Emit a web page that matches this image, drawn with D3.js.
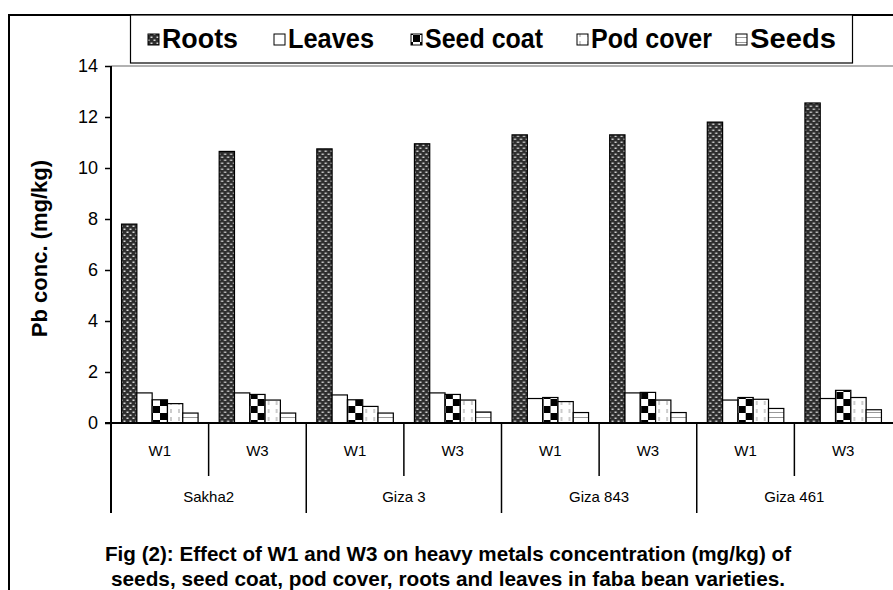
<!DOCTYPE html>
<html>
<head>
<meta charset="utf-8">
<script src="https://cdn.jsdelivr.net/npm/d3@7/dist/d3.min.js"></script>
<style>
  body { margin: 0; background: #fff; }
  svg { display: block; }
</style>
</head>
<body>
<div id="chart"></div>
<script>
// data
const varieties = ['Sakha2', 'Giza 3', 'Giza 843', 'Giza 461'];
const treatments = ['W1', 'W3'];
const seriesNames = ['Roots', 'Leaves', 'Seed coat', 'Pod cover', 'Seeds'];
const roots = [7.8, 10.65, 10.75, 10.95, 11.3, 11.3, 11.8, 12.55];
const leaves = [1.18, 1.18, 1.1, 1.18, 0.96, 1.18, 0.9, 0.96];
const seedCoat = [0.91, 1.12, 0.91, 1.12, 1.0, 1.2, 1.0, 1.28];
const podCover = [0.76, 0.9, 0.65, 0.9, 0.84, 0.9, 0.93, 1.0];
const seeds = [0.39, 0.39, 0.39, 0.43, 0.41, 0.41, 0.57, 0.52];
const yTicks = [0, 2, 4, 6, 8, 10, 12, 14];
const captionLines = [
  'Fig (2): Effect of W1 and W3 on heavy metals concentration (mg/kg) of',
  'seeds, seed coat, pod cover, roots and leaves in faba bean varieties.'
];

const seriesValues = [roots, leaves, seedCoat, podCover, seeds];
const categories = [];
varieties.forEach(v => treatments.forEach(t => categories.push({ variety: v, treatment: t, key: v + '|' + t })));

const width = 893, height = 590;
const margin = { top: 66, right: 1, bottom: 167, left: 111 };
const font = 'Liberation Sans, Arial, sans-serif';

const svg = d3.select('#chart').append('svg')
  .attr('width', width)
  .attr('height', height);

// fill patterns
const defs = svg.append('defs');

const pRoots = defs.append('pattern').attr('id', 'p0')
  .attr('patternUnits', 'userSpaceOnUse').attr('width', 6).attr('height', 6);
pRoots.append('rect').attr('width', 6).attr('height', 6).attr('fill', '#2e2e2e');
pRoots.append('rect').attr('x', 0.5).attr('y', 0.5).attr('width', 2).attr('height', 1.5).attr('fill', '#d8d8d8');
pRoots.append('rect').attr('x', 3.5).attr('y', 3.5).attr('width', 2).attr('height', 1.5).attr('fill', '#d8d8d8');

const pLeaves = defs.append('pattern').attr('id', 'p1')
  .attr('patternUnits', 'userSpaceOnUse').attr('width', 4).attr('height', 4);
pLeaves.append('rect').attr('width', 4).attr('height', 4).attr('fill', '#fff');

const pCoat = defs.append('pattern').attr('id', 'p2')
  .attr('patternUnits', 'userSpaceOnUse').attr('width', 14).attr('height', 14);
pCoat.append('rect').attr('width', 14).attr('height', 14).attr('fill', '#fff');
pCoat.append('rect').attr('width', 7).attr('height', 7).attr('fill', '#000');
pCoat.append('rect').attr('x', 7).attr('y', 7).attr('width', 7).attr('height', 7).attr('fill', '#000');

const pPod = defs.append('pattern').attr('id', 'p3')
  .attr('patternUnits', 'userSpaceOnUse').attr('width', 8).attr('height', 8);
pPod.append('rect').attr('width', 8).attr('height', 8).attr('fill', '#fff');
pPod.append('line').attr('x1', 4).attr('x2', 4).attr('y1', 1).attr('y2', 5)
  .attr('stroke', '#999').attr('stroke-width', 1);

const pSeeds = defs.append('pattern').attr('id', 'p4')
  .attr('patternUnits', 'userSpaceOnUse').attr('width', 4).attr('height', 5);
pSeeds.append('rect').attr('width', 4).attr('height', 5).attr('fill', '#fff');
pSeeds.append('line').attr('x1', 0).attr('x2', 4).attr('y1', 2.5).attr('y2', 2.5)
  .attr('stroke', '#999').attr('stroke-width', 1);

// outer frame (left and top edges only, the rest is cropped)
svg.append('path')
  .attr('d', 'M9,591 V15 H894')
  .attr('fill', 'none').attr('stroke', '#000').attr('stroke-width', 2);

// scales
const x0 = d3.scaleBand()
  .domain(categories.map(d => d.key))
  .range([margin.left, width - margin.right])
  .padding(0);

const x1 = d3.scaleBand()
  .domain(seriesNames)
  .range([0, x0.bandwidth()])
  .paddingInner(0)
  .paddingOuter(0.69);

const y = d3.scaleLinear()
  .domain([0, 14])
  .range([height - margin.bottom, margin.top]);

// plot top edge
svg.append('line')
  .attr('x1', margin.left).attr('x2', width)
  .attr('y1', y(14)).attr('y2', y(14))
  .attr('stroke', '#999').attr('stroke-width', 1.5);

// bars
const groups = svg.append('g').selectAll('g')
  .data(categories)
  .join('g')
  .attr('transform', d => `translate(${x0(d.key)},0)`);

groups.selectAll('rect')
  .data((d, i) => seriesNames.map((s, j) => ({ series: s, idx: j, value: seriesValues[j][i] })))
  .join('rect')
  .attr('x', d => x1(d.series))
  .attr('y', d => y(d.value))
  .attr('width', x1.bandwidth())
  .attr('height', d => y(0) - y(d.value))
  .attr('fill', d => `url(#p${d.idx})`)
  .attr('stroke', '#000')
  .attr('stroke-width', 1.2);

// y axis
const yAxis = svg.append('g')
  .attr('transform', `translate(${margin.left},0)`)
  .call(d3.axisLeft(y).tickValues(yTicks).tickSize(6).tickSizeOuter(0).tickPadding(7));
yAxis.select('.domain').attr('stroke', '#000').attr('stroke-width', 2)
  .attr('d', `M0,${y(14)}V${y(0) + 90}`);
yAxis.selectAll('.tick line').attr('stroke', '#000').attr('stroke-width', 1.5);
yAxis.selectAll('.tick text')
  .attr('font-family', font)
  .attr('font-size', 18)
  .attr('fill', '#000');

// x axis line
svg.append('line')
  .attr('x1', margin.left - 6).attr('x2', width)
  .attr('y1', y(0)).attr('y2', y(0))
  .attr('stroke', '#000').attr('stroke-width', 2);

// two-level category axis
const sep = svg.append('g');
categories.forEach((d, i) => {
  if (i === 0) return;
  const xPos = x0(d.key);
  const long = d.treatment === treatments[0];
  sep.append('line')
    .attr('x1', xPos).attr('x2', xPos)
    .attr('y1', y(0)).attr('y2', long ? y(0) + 90 : y(0) + 53)
    .attr('stroke', '#000').attr('stroke-width', 1.5);
});

svg.append('g').selectAll('text')
  .data(categories)
  .join('text')
  .attr('x', d => x0(d.key) + x0.bandwidth() / 2)
  .attr('y', y(0) + 33)
  .attr('text-anchor', 'middle')
  .attr('font-family', font)
  .attr('font-size', 15)
  .text(d => d.treatment);

svg.append('g').selectAll('text')
  .data(varieties)
  .join('text')
  .attr('x', (d, i) => x0(categories[i * 2].key) + x0.bandwidth())
  .attr('y', y(0) + 79)
  .attr('text-anchor', 'middle')
  .attr('font-family', font)
  .attr('font-size', 15)
  .text(d => d);

// y axis title
svg.append('text')
  .attr('transform', `translate(47,${(y(0) + y(14)) / 2 + 4}) rotate(-90)`)
  .attr('text-anchor', 'middle')
  .attr('font-family', font)
  .attr('font-weight', 'bold')
  .attr('font-size', 22)
  .text('Pb conc. (mg/kg)');

// legend
const legend = svg.append('g');
legend.append('rect')
  .attr('x', 130.5).attr('y', 15).attr('width', 722).attr('height', 48)
  .attr('fill', '#fff').attr('stroke', '#000').attr('stroke-width', 1.2);
const legendX = [148, 274, 411, 577, 736];
const legendW = [76, 86, 118, 121, 86];
seriesNames.forEach((s, j) => {
  legend.append('rect')
    .attr('x', legendX[j]).attr('y', 34).attr('width', 11).attr('height', 11)
    .attr('fill', `url(#p${j})`).attr('stroke', '#000').attr('stroke-width', 1);
  legend.append('text')
    .attr('x', legendX[j] + 14).attr('y', 48)
    .attr('font-family', font)
    .attr('font-weight', 'bold')
    .attr('font-size', 27)
    .attr('textLength', legendW[j])
    .attr('lengthAdjust', 'spacingAndGlyphs')
    .text(s);
});

// caption
const captionW = [686, 674];
svg.append('g').selectAll('text')
  .data(captionLines)
  .join('text')
  .attr('x', 448)
  .attr('y', (d, i) => 561 + i * 25)
  .attr('text-anchor', 'middle')
  .attr('font-family', font)
  .attr('font-weight', 'bold')
  .attr('font-size', 21)
  .attr('textLength', (d, i) => captionW[i])
  .attr('lengthAdjust', 'spacingAndGlyphs')
  .text(d => d);
</script>
</body>
</html>
